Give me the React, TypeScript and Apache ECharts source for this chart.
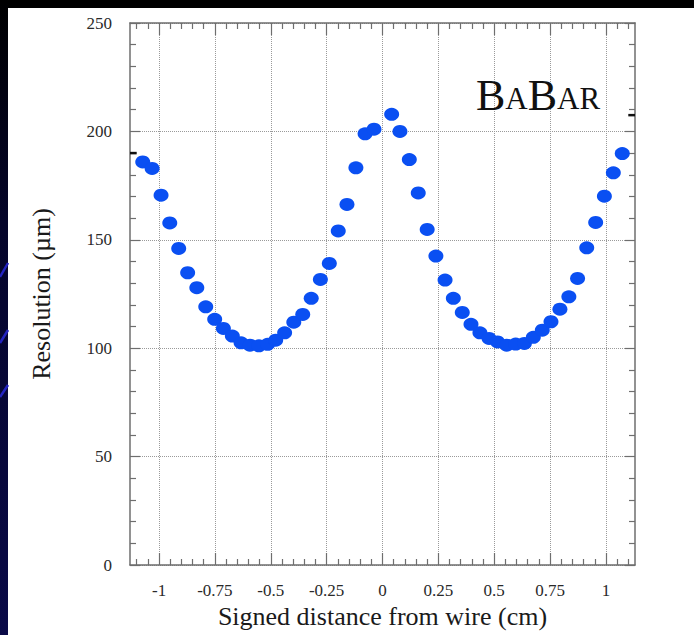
import React, { useEffect, useRef } from "react";
import * as echarts from "echarts";

// Signed distance from wire (cm)
const xValues = [
  -1.073, -1.031, -0.991, -0.952, -0.912, -0.872, -0.831, -0.791, -0.751, -0.712,
  -0.672, -0.633, -0.593, -0.553, -0.514, -0.478, -0.438, -0.397, -0.357, -0.319,
  -0.278, -0.238, -0.198, -0.159, -0.119, -0.078, -0.038,
  0.041, 0.078, 0.12, 0.16, 0.2, 0.239, 0.28, 0.317, 0.357, 0.396,
  0.436, 0.477, 0.515, 0.556, 0.596, 0.635, 0.675, 0.715, 0.754, 0.794,
  0.834, 0.873, 0.914, 0.954, 0.993, 1.033, 1.073,
];
// Resolution (µm)
const yValues = [
  185.9, 182.9, 170.6, 157.8, 146.0, 134.8, 127.9, 119.1, 113.3, 109.1,
  105.6, 102.5, 101.4, 101.1, 101.8, 103.7, 107.1, 112.0, 115.6, 123.0,
  131.7, 139.1, 154.1, 166.3, 183.2, 198.9, 201.0,
  207.9, 200.0, 187.0, 171.6, 154.8, 142.5, 131.4, 123.0, 116.5, 111.0,
  107.1, 104.5, 102.9, 101.4, 101.9, 102.2, 105.0, 108.3, 112.2, 118.0,
  123.7, 132.2, 146.3, 158.0, 170.1, 180.9, 189.8,
];

const xMajorTicks = [-1, -0.75, -0.5, -0.25, 0, 0.25, 0.5, 0.75, 1];
const xMinorTicks = [
  -1.1, -1.05, -0.95, -0.9, -0.85, -0.8, -0.7, -0.65, -0.6, -0.55, -0.45, -0.4,
  -0.35, -0.3, -0.2, -0.15, -0.1, -0.05, 0.05, 0.1, 0.15, 0.2, 0.3, 0.35, 0.4,
  0.45, 0.55, 0.6, 0.65, 0.7, 0.8, 0.85, 0.9, 0.95, 1.05, 1.1,
];
const xRange = [-1.13, 1.13];
const yRange = [0, 250];
const yStep = 50;

// short reference dashes on the frame
const leftDash = [[-1.13, 190], [-1.1, 190]];
const rightDash = [[1.1, 207.5], [1.13, 207.5]];

const SERIF = "'Liberation Serif', 'DejaVu Serif', serif";
const FRAME = "#6e6e6e";

export default function App() {
  const ref = useRef<HTMLDivElement>(null);
  useEffect(() => {
    if (!ref.current) return;
    const chart = echarts.init(ref.current, null, { renderer: "svg" });
    const points = xValues.map((x, i) => [x, yValues[i]]);

    const baseX = {
      type: "value",
      min: xRange[0],
      max: xRange[1],
      gridIndex: 0,
    };

    const option: any = {
      animation: false,
      backgroundColor: "#ffffff",
      grid: { left: 130, right: 59, top: 23, bottom: 70, containLabel: false },
      graphic: [
        { type: "rect", shape: { x: 0, y: 0, width: 694, height: 8 }, style: { fill: "#000000" }, z: 100 },
        {
          type: "rect",
          shape: { x: 0, y: 0, width: 8, height: 635 },
          style: {
            fill: new echarts.graphic.LinearGradient(0, 0, 0, 1, [
              { offset: 0, color: "#000000" },
              { offset: 0.35, color: "#05052a" },
              { offset: 1, color: "#0a0a48" },
            ]),
          },
          z: 100,
        },
        { type: "line", shape: { x1: 0, y1: 277, x2: 8, y2: 263 }, style: { stroke: "#2323c0", lineWidth: 2.5 }, z: 101 },
        { type: "line", shape: { x1: 0, y1: 343, x2: 8, y2: 330 }, style: { stroke: "#2323c0", lineWidth: 2.5 }, z: 101 },
        { type: "line", shape: { x1: 0, y1: 397, x2: 8, y2: 385 }, style: { stroke: "#2323c0", lineWidth: 2.5 }, z: 101 },
        {
          type: "text",
          x: 476,
          y: 117,
          style: {
            text: "{b|B}{s|A}{b|B}{s|AR}",
            verticalAlign: "bottom",
            align: "left",
            rich: {
              b: { fontSize: 44, fontFamily: SERIF, fill: "#111111", color: "#111111", verticalAlign: "bottom" },
              s: { fontSize: 31, fontFamily: SERIF, fill: "#111111", color: "#111111", verticalAlign: "bottom", padding: [0, 0, 3, 0] },
            },
          },
          z: 50,
        },
      ],
      xAxis: [
        {
          ...baseX,
          position: "bottom",
          name: "Signed distance from wire (cm)",
          nameLocation: "middle",
          nameGap: 38,
          nameTextStyle: { fontFamily: SERIF, fontSize: 26, color: "#1a1a1a" },
          axisLine: { show: true, onZero: false, lineStyle: { color: FRAME, width: 1.5 } },
          axisTick: { show: true, inside: true, length: 12, customValues: xMajorTicks, lineStyle: { color: FRAME, width: 1.2 } },
          axisLabel: { show: true, customValues: xMajorTicks, margin: 17, fontFamily: SERIF, fontSize: 17, color: "#2a2a2a" },
          splitLine: { show: true, lineStyle: { color: "#9a9a9a", type: "dotted", width: 1 } },
          minorTick: { show: false },
        },
        {
          ...baseX,
          position: "bottom",
          axisLine: { show: false, onZero: false },
          axisTick: { show: true, inside: true, length: 6, customValues: xMinorTicks, lineStyle: { color: FRAME, width: 1.2 } },
          axisLabel: { show: false },
          splitLine: { show: false },
        },
        {
          ...baseX,
          position: "top",
          axisLine: { show: true, onZero: false, lineStyle: { color: FRAME, width: 1.5 } },
          axisTick: { show: true, inside: true, length: 12, customValues: xMajorTicks, lineStyle: { color: FRAME, width: 1.2 } },
          axisLabel: { show: false },
          splitLine: { show: false },
        },
        {
          ...baseX,
          position: "top",
          axisLine: { show: false, onZero: false },
          axisTick: { show: true, inside: true, length: 6, customValues: xMinorTicks, lineStyle: { color: FRAME, width: 1.2 } },
          axisLabel: { show: false },
          splitLine: { show: false },
        },
      ],
      yAxis: [
        {
          type: "value",
          position: "left",
          min: yRange[0],
          max: yRange[1],
          interval: yStep,
          name: "Resolution (µm)",
          nameLocation: "middle",
          nameGap: 76,
          nameTextStyle: { fontFamily: SERIF, fontSize: 26, color: "#1a1a1a" },
          axisLine: { show: true, onZero: false, lineStyle: { color: FRAME, width: 1.5 } },
          axisTick: { show: true, inside: true, length: 10, lineStyle: { color: FRAME, width: 1.2 } },
          minorTick: { show: true, splitNumber: 5, length: 6, lineStyle: { color: FRAME, width: 1.2 } },
          axisLabel: { show: true, margin: 18, fontFamily: SERIF, fontSize: 17, color: "#2a2a2a" },
          splitLine: { show: true, lineStyle: { color: "#9a9a9a", type: "dotted", width: 1 } },
        },
        {
          type: "value",
          position: "right",
          min: yRange[0],
          max: yRange[1],
          interval: yStep,
          axisLine: { show: true, onZero: false, lineStyle: { color: FRAME, width: 1.5 } },
          axisTick: { show: true, inside: true, length: 10, lineStyle: { color: FRAME, width: 1.2 } },
          minorTick: { show: true, splitNumber: 5, length: 6, lineStyle: { color: FRAME, width: 1.2 } },
          axisLabel: { show: false },
          splitLine: { show: false },
        },
      ],
      series: [
        {
          type: "scatter",
          xAxisIndex: 0,
          yAxisIndex: 0,
          data: points,
          symbol: "circle",
          symbolSize: [15, 13],
          itemStyle: { color: "#0a4ff2", opacity: 1 },
          z: 5,
        },
        {
          type: "line",
          xAxisIndex: 0,
          yAxisIndex: 0,
          data: leftDash,
          symbol: "none",
          lineStyle: { color: "#111111", width: 2.5 },
          clip: false,
        },
        {
          type: "line",
          xAxisIndex: 0,
          yAxisIndex: 0,
          data: rightDash,
          symbol: "none",
          lineStyle: { color: "#111111", width: 2.5 },
          clip: false,
        },
      ],
    };
    chart.setOption(option);
    return () => chart.dispose();
  }, []);

  return (
    <div
      ref={ref}
      style={{ position: "fixed", left: 0, top: 0, width: 694, height: 635 }}
    />
  );
}
